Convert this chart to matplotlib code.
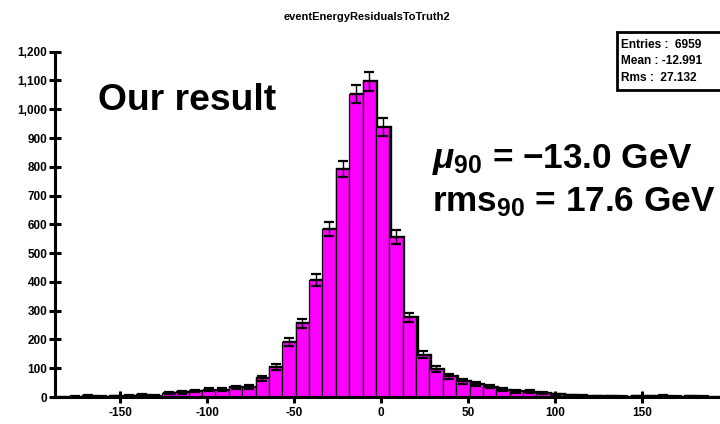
import numpy as np
import matplotlib
matplotlib.use("Agg")
import matplotlib.pyplot as plt
import matplotlib.transforms as mtransforms
from matplotlib.patches import Rectangle
from matplotlib.ticker import FuncFormatter

plt.rcParams['font.family'] = ['Liberation Sans', 'DejaVu Sans']
plt.rcParams['mathtext.fontset'] = 'custom'
plt.rcParams['mathtext.rm'] = 'Liberation Sans:bold'
plt.rcParams['mathtext.it'] = 'Liberation Sans:bold:italic'
plt.rcParams['mathtext.bf'] = 'Liberation Sans:bold'

# histogram binning: 52 bins
x_lo = -187.4
x_hi = 212.0
n_bins = 52

# counts per bin, left to right
counts = [0, 1, 4, 1, 2, 4, 8, 4, 15, 16, 21, 25, 26, 34, 35, 65, 104, 192,
          256, 407, 585, 793, 1053, 1097, 938, 557, 277, 147, 97, 72, 54, 46,
          36, 25, 20, 19, 13, 9, 6, 5, 2, 3, 1, 3, 3, 5, 1, 3, 1, 0, 0, 0]

x_ticks = [-150, -100, -50, 0, 50, 100, 150]
y_ticks = list(range(0, 1300, 100))

hist_title = "eventEnergyResidualsToTruth2"
stats_lines = ["Entries :  6959", "Mean : -12.991", "Rms :  27.132"]

W, H = 720, 424
fig = plt.figure(figsize=(W / 100, H / 100), dpi=100)
ax = fig.add_axes([55 / W, 1 - 397 / H, (x_hi - x_lo) * 1.741 / W, (397 - 51.7) / H])

edges = np.linspace(x_lo, x_hi, n_bins + 1)
counts = np.array(counts, dtype=float)
centers = 0.5 * (edges[:-1] + edges[1:])
width = edges[1] - edges[0]

# dark shadow of the outline, shifted a little to the right
shadow = mtransforms.offset_copy(ax.transData, fig=fig, x=1.1, y=0, units='points')
ax.stairs(counts, edges, color='black', lw=1.7, transform=shadow, zorder=1)

ax.bar(centers, counts, width=width, color='#ff00ff', edgecolor='black',
       linewidth=0.9, zorder=2)
nz = counts > 0
ax.errorbar(centers[nz], counts[nz], yerr=np.sqrt(counts[nz]), fmt='none',
            ecolor='black', elinewidth=1.0, capsize=3.5, capthick=1.6, zorder=3)

ax.set_xlim(x_lo, x_hi)
ax.set_ylim(0, 1200)
ax.set_xticks(x_ticks)
ax.set_yticks(y_ticks)
ax.xaxis.set_major_formatter(FuncFormatter(lambda v, p: f"{v:.0f}"))
ax.yaxis.set_major_formatter(FuncFormatter(lambda v, p: f"{v:,.0f}"))
for s in ['top', 'right']:
    ax.spines[s].set_visible(False)
for s in ['left', 'bottom']:
    ax.spines[s].set_linewidth(2.2)
ax.tick_params(axis='both', direction='inout', length=9, width=2.2,
               labelsize=8.5)
ax.tick_params(axis='y', pad=1)
ax.tick_params(axis='x', pad=3)
for lab in ax.get_xticklabels() + ax.get_yticklabels():
    lab.set_fontweight('bold')

fig.text(367 / W, 1 - 17 / H, hist_title, ha='center', va='center',
         fontsize=8, fontweight='bold')

# statistics box in the corner
fig.patches.append(Rectangle((616.5 / W, 1 - 90 / H), 120 / W, 58 / H,
                             transform=fig.transFigure, facecolor='white',
                             edgecolor='black', lw=2.0, zorder=5))
for i, line in enumerate(stats_lines):
    fig.text(621 / W, 1 - (45 + 16.5 * i) / H, line, ha='left', va='center',
             fontsize=8.6, fontweight='bold', zorder=6)

fig.text(98 / W, 1 - 110 / H, "Our result", ha='left', va='baseline',
         fontsize=26.8, fontweight='bold')
fig.text(432 / W, 1 - 168 / H, "$\\mu_{90}$ = \u221213.0 GeV", ha='left',
         va='baseline', fontsize=25.3, fontweight='bold')
fig.text(432 / W, 1 - 211.5 / H, "rms$_{90}$ = 17.6 GeV", ha='left',
         va='baseline', fontsize=25.3, fontweight='bold')

fig.savefig("out.png", dpi=100)
